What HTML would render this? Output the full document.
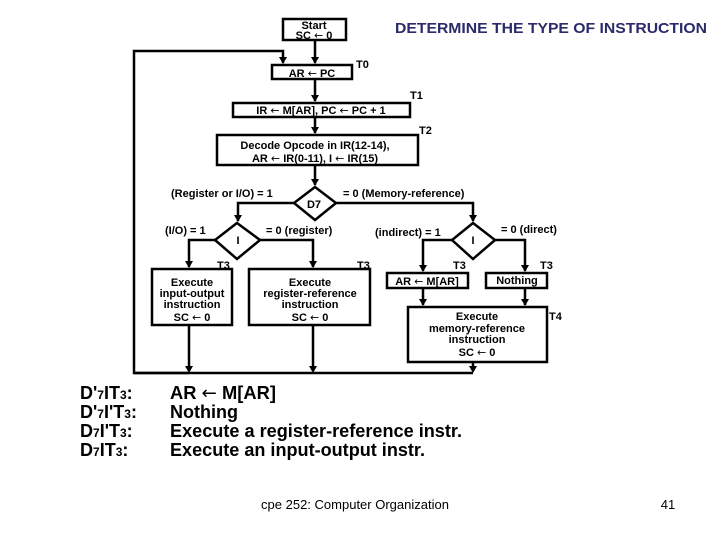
<!DOCTYPE html>
<html><head><style>body{margin:0;background:#fff}svg{display:block}.ar{font-family:"DejaVu Sans",sans-serif;font-weight:normal}</style></head><body>
<svg width="720" height="540" viewBox="0 0 720 540" xmlns="http://www.w3.org/2000/svg" font-family="Liberation Sans, Arial, sans-serif">
<g stroke="#000" stroke-width="2.5" fill="#fff">
<rect x="283" y="19" width="63" height="21"/>
<rect x="272" y="65" width="80" height="14"/>
<rect x="233" y="103" width="177" height="14"/>
<rect x="217" y="135" width="201" height="30"/>
<polygon points="315,187 336,203 315,220 294,203"/>
<polygon points="237,223 260,240 237,259 215,240"/>
<polygon points="473,223 495,240 473,259 452,240"/>
<rect x="152" y="269" width="80" height="56"/>
<rect x="249" y="269" width="121" height="56"/>
<rect x="387" y="273" width="81" height="15"/>
<rect x="486" y="273" width="61" height="15"/>
<rect x="408" y="307" width="139" height="55"/>
</g>
<g stroke="#000" stroke-width="2.5" fill="none">
<polyline points="315,40 315,63"/>
<polyline points="189,373 134,373 134,51 283,51 283,63"/>
<line x1="315" y1="79" x2="315" y2="101"/>
<line x1="315" y1="117" x2="315" y2="133"/>
<line x1="315" y1="165" x2="315" y2="185"/>
<polyline points="294,203 238,203 238,221"/>
<polyline points="336,203 473,203 473,221"/>
<polyline points="215,240 189,240 189,267"/>
<polyline points="260,240 313,240 313,267"/>
<polyline points="452,240 423,240 423,271"/>
<polyline points="495,240 525,240 525,271"/>
<line x1="423" y1="288" x2="423" y2="305"/>
<line x1="525" y1="288" x2="525" y2="305"/>
<line x1="189" y1="325" x2="189" y2="371"/>
<line x1="313" y1="325" x2="313" y2="371"/>
<line x1="473" y1="362" x2="473" y2="371"/>
<line x1="134" y1="373" x2="473" y2="373"/>
</g>
<g fill="#000">
<path d="M311,57 L319,57 L315,64 Z M279,57 L287,57 L283,64 Z M311,95 L319,95 L315,102 Z M311,127 L319,127 L315,134 Z M311,179 L319,179 L315,186 Z M234,215 L242,215 L238,222 Z M469,215 L477,215 L473,222 Z M185,261 L193,261 L189,268 Z M309,261 L317,261 L313,268 Z M419,265 L427,265 L423,272 Z M521,265 L529,265 L525,272 Z M419,299 L427,299 L423,306 Z M521,299 L529,299 L525,306 Z M185,366 L193,366 L189,373 Z M309,366 L317,366 L313,373 Z M469,366 L477,366 L473,373 Z"/>
</g>
<g font-size="11" font-weight="bold" text-anchor="middle" fill="#000">
<text x="314" y="29">Start</text>
<text x="314" y="39">SC <tspan class="ar">←</tspan> 0</text>
<text x="312" y="77">AR  <tspan class="ar">←</tspan>  PC</text>
<text x="321" y="114">IR  <tspan class="ar">←</tspan>  M[AR],  PC <tspan class="ar">←</tspan>  PC + 1</text>
<text x="315" y="149">Decode Opcode in IR(12-14),</text>
<text x="315" y="162">AR <tspan class="ar">←</tspan> IR(0-11),   I <tspan class="ar">←</tspan> IR(15)</text>
<text x="314" y="208">D7</text>
<text x="238" y="244">I</text>
<text x="473" y="244">I</text>
<text x="192" y="286">Execute</text>
<text x="192" y="297">input-output</text>
<text x="192" y="308">instruction</text>
<text x="192" y="321">SC  <tspan class="ar">←</tspan>  0</text>
<text x="310" y="286">Execute</text>
<text x="310" y="297">register-reference</text>
<text x="310" y="308">instruction</text>
<text x="310" y="321">SC  <tspan class="ar">←</tspan>  0</text>
<text x="427" y="285">AR <tspan class="ar">←</tspan> M[AR]</text>
<text x="517" y="284">Nothing</text>
<text x="477" y="320">Execute</text>
<text x="477" y="332">memory-reference</text>
<text x="477" y="343">instruction</text>
<text x="477" y="356">SC  <tspan class="ar">←</tspan>  0</text>
</g>
<g font-size="11" font-weight="bold" fill="#000">
<text x="356" y="68">T0</text>
<text x="410" y="99">T1</text>
<text x="419" y="134">T2</text>
<text x="217" y="269">T3</text>
<text x="357" y="269">T3</text>
<text x="453" y="269">T3</text>
<text x="540" y="269">T3</text>
<text x="549" y="320">T4</text>
<text x="171" y="197">(Register or I/O) = 1</text>
<text x="343" y="197">= 0 (Memory-reference)</text>
<text x="165" y="234">(I/O) = 1</text>
<text x="266" y="234">= 0 (register)</text>
<text x="375" y="236">(indirect) = 1</text>
<text x="501" y="233">= 0 (direct)</text>
</g>
<text x="395" y="33" font-size="15" font-weight="bold" fill="#2b2b6b" textLength="312" lengthAdjust="spacingAndGlyphs">DETERMINE  THE  TYPE  OF  INSTRUCTION</text>
<g font-size="18" font-weight="bold" fill="#000">
<text x="80" y="399">D'<tspan font-size="12">7</tspan>IT<tspan font-size="12">3</tspan>:</text>
<text x="80" y="418">D'<tspan font-size="12">7</tspan>I'T<tspan font-size="12">3</tspan>:</text>
<text x="80" y="437">D<tspan font-size="12">7</tspan>I'T<tspan font-size="12">3</tspan>:</text>
<text x="80" y="456">D<tspan font-size="12">7</tspan>IT<tspan font-size="12">3</tspan>:</text>
<text x="170" y="399" textLength="106" lengthAdjust="spacingAndGlyphs">AR <tspan class="ar">←</tspan> M[AR]</text>
<text x="170" y="418" textLength="68" lengthAdjust="spacingAndGlyphs">Nothing</text>
<text x="170" y="437" textLength="292" lengthAdjust="spacingAndGlyphs">Execute a register-reference instr.</text>
<text x="170" y="456" textLength="255" lengthAdjust="spacingAndGlyphs">Execute an input-output instr.</text>
</g>
<text x="355" y="509" font-size="13" text-anchor="middle" fill="#000">cpe 252: Computer Organization</text>
<text x="668" y="509" font-size="13" text-anchor="middle" fill="#000">41</text>
</svg>
</body></html>
